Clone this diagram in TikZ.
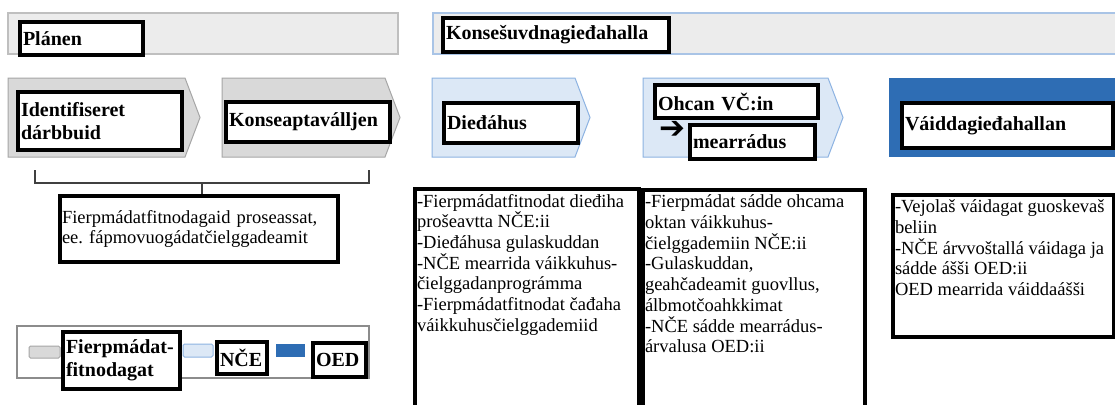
\documentclass[tikz,border=0pt]{standalone}
\usepackage{fontspec}
\setmainfont{Liberation Serif}
\newfontfamily\arrowfont{DejaVu Sans}
\frenchspacing

\definecolor{barfill}{HTML}{ECECEC}
\definecolor{barline}{HTML}{BFBFBF}
\definecolor{barblue}{HTML}{A9C4E6}
\definecolor{chevgray}{HTML}{D9D9D9}
\definecolor{chevline}{HTML}{A6A6A6}
\definecolor{nceblue}{HTML}{DCE8F6}
\definecolor{nceline}{HTML}{8DB3E2}
\definecolor{oedblue}{HTML}{2E6DB4}
\definecolor{leggray}{HTML}{8C8C8C}
\definecolor{bracecol}{HTML}{404040}

\newcommand\colbody[3]{\parbox[t][#2][t]{#1}{\raggedright #3}}

\begin{document}
\begin{tikzpicture}[x=1pt, y=-1pt,
    lbl/.style n args={3}{draw=black, line width=4pt, fill=white,
        font=\bfseries\fontsize{20}{23}\selectfont, inner xsep=3pt, inner ysep=0pt,
        align=left, minimum width=#1, minimum height=#2, text width=#3},
    txt/.style={draw=black, line width=4pt, fill=white,
        font=\fontsize{18.5}{20.7}\selectfont, inner xsep=2pt, inner ysep=5pt, anchor=north west},
    swatch/.style={line width=1pt, rounded corners=1.5pt}]

\clip (0,0) rectangle (1115,404);
\fill[white] (0,0) rectangle (1115,404);

\draw[line width=1.2pt, draw=barline, fill=barfill] (8,13) rectangle (398,54);
\draw[line width=1.2pt, draw=barblue, fill=barfill] (433,13) rectangle (1125,54);

\foreach \xa/\xb/\fc/\dc in {8/200/chevgray/chevline, 222/400/chevgray/chevline,
    432/590/nceblue/nceline, 643/843/nceblue/nceline}
    \draw[line width=1pt, draw=\dc, fill=\fc]
    (\xa,78) -- (\xb-15,78) -- (\xb,117.5) -- (\xb-15,157) -- (\xa,157) -- cycle;

\fill[oedblue] (889,78) rectangle (1125,157);

\node[lbl={123pt}{33pt}{117pt}] (plan) at (81.5,38.5) {Plánen};
\node[lbl={226pt}{34pt}{220pt}] (konses) at (556,35) {Konsešuvdnagieđahalla};
\node[lbl={164pt}{58pt}{158pt}] (ident) at (100,121) {Identifiseret\\dárbbuid};
\node[lbl={164pt}{40pt}{158pt}] (konsea) at (308,122) {Konseaptaválljen};
\node[lbl={134pt}{40pt}{128pt}] (dieda) at (511,123) {Dieđáhus};
\node[lbl={163pt}{33pt}{157pt}] (ohcan) at (736.5,101.5) {Ohcan VČ:in};
\node[font=\arrowfont\bfseries\fontsize{31}{31}\selectfont, inner sep=0pt] (arr) at (672,130) {➔};
\node[lbl={125pt}{34pt}{119pt}] (mearr) at (752.5,142) {mearrádus};
\node[lbl={211pt}{45pt}{205pt}] (vaidd) at (1007.5,125.5) {Váiddagieđahallan};

\coordinate (bl) at (35,170);
\coordinate (br) at (369,170);
\coordinate (bm) at (202,183);
\draw[bracecol, line width=1.2pt] (bl) -- ++(0,13) -| (br);
\node[txt, anchor=center, minimum width=278pt, minimum height=66pt, text width=274pt, align=left]
    (note) at (199,229) {Fierpmádatfitnodagaid proseassat,\\ee. fápmovuogádatčielggadeamit};
\draw[bracecol, line width=1.2pt] (bm) -- (bm |- note.north);

\node[txt] (info) at (413,187) {\colbody{220pt}{240pt}{-Fierpmádatfitnodat dieđiha\\
    prošeavtta NČE:ii\\
    -Dieđáhusa gulaskuddan\\
    -NČE mearrida váikkuhus-\\
    čielggadanprográmma\\
    -Fierpmádatfitnodat čađaha\\
    váikkuhusčielggademiid}};
\node[txt] (ohca) at (641,188) {\colbody{218pt}{240pt}{-Fierpmádat sádde ohcama\\
    oktan váikkuhus-\\
    čielggademiin NČE:ii\\
    -Gulaskuddan,\\
    geahčadeamit guovllus,\\
    álbmotčoahkkimat\\
    -NČE sádde mearrádus-\\
    árvalusa OED:ii}};
\node[txt] (vaid) at (891,193) {\colbody{217pt}{132pt}{-Vejolaš váidagat guoskevaš\\
    beliin\\
    -NČE árvvoštallá váidaga ja\\
    sádde ášši OED:ii\\
    OED mearrida váiddaášši}};

\draw[line width=1.2pt, draw=leggray, fill=white] (17,326) rectangle (369,378);
\draw[swatch, draw=chevline, fill=chevgray] (29,346) rectangle (60,358);
\draw[swatch, draw=nceline, fill=nceblue] (183,344) rectangle (213,357);
\fill[oedblue] (276,344) rectangle (305,357);
\node[lbl={117pt}{57pt}{111pt}] (fitn) at (121.5,360.5) {Fierpmádat-\\fitnodagat};
\node[lbl={50pt}{32pt}{44pt}] (nce) at (242,358) {NČE};
\node[lbl={53pt}{34pt}{47pt}] (oed) at (339.5,360) {OED};

\end{tikzpicture}
\end{document}
